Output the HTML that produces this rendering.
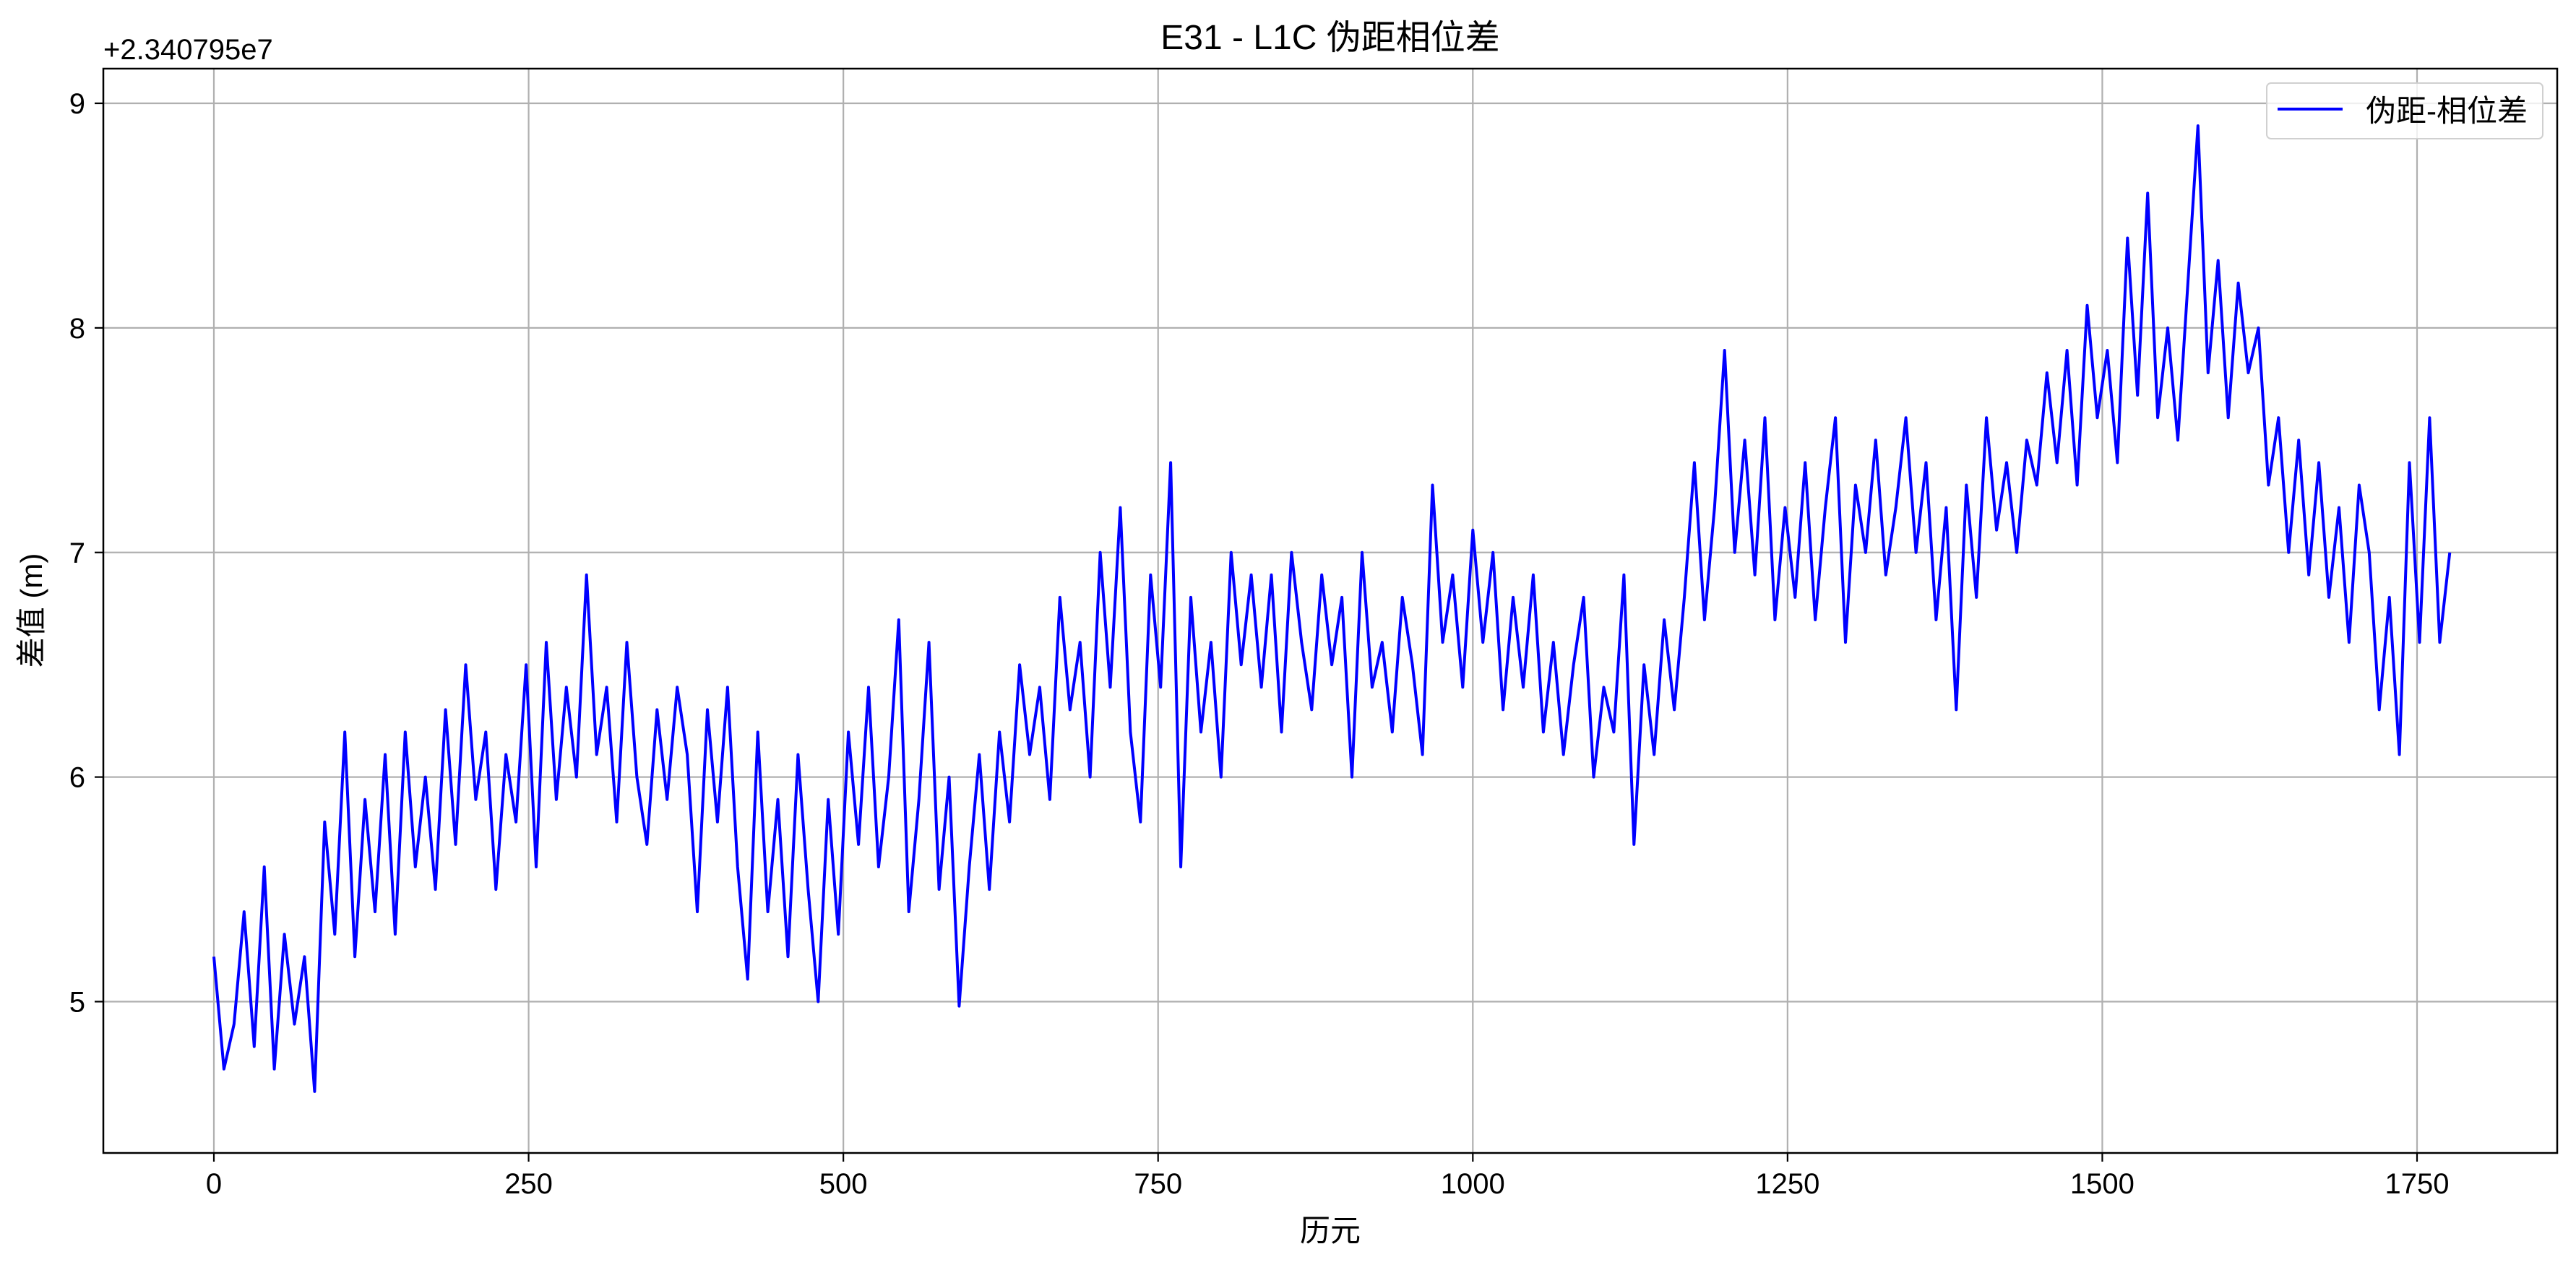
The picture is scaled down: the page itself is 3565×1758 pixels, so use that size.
<!DOCTYPE html>
<html><head><meta charset="utf-8"><style>
html,body{margin:0;padding:0;background:#fff}
svg{display:block}
text{font-family:"Liberation Sans","Noto Sans CJK SC",sans-serif;fill:#000}
</style></head><body>
<svg id="chart" width="3565" height="1758" viewBox="0 0 3565 1758" xmlns="http://www.w3.org/2000/svg">
<rect width="3565" height="1758" fill="#fff"/>
<g id="grid"></g>
<g id="ticks"></g>
<path id="series" fill="none" stroke="#0000ff" stroke-width="4" stroke-linejoin="round"/>
<rect x="143" y="95" width="3396" height="1501" fill="none" stroke="#000" stroke-width="2.5"/>
<text x="1841" y="68" font-size="48" text-anchor="middle">E31 - L1C 伪距相位差</text>
<text x="143" y="82" font-size="40">+2.340795e7</text>
<text x="1841" y="1718" font-size="42" text-anchor="middle">历元</text>
<text transform="translate(58,845) rotate(-90)" font-size="42" text-anchor="middle">差值 (m)</text>
<g>
<rect x="3137" y="115" width="382" height="77" rx="6" fill="#fff" fill-opacity="0.8" stroke="#d0d0d0" stroke-width="2"/>
<line x1="3152" y1="151" x2="3242" y2="151" stroke="#0000ff" stroke-width="4"/>
<text x="3274" y="168" font-size="42">伪距-相位差</text>
</g>
</svg>
<script>
const step = 8;
const values = [
5.2,4.7,4.9,5.4,4.8,5.6,4.7,5.3,4.9,5.2,4.6,5.8,5.3,
6.2,5.2,5.9,5.4,6.1,5.3,6.2,5.6,6.0,5.5,6.3,5.7,6.5,
5.9,6.2,5.5,6.1,5.8,6.5,5.6,6.6,5.9,6.4,6.0,6.9,6.1,
6.4,5.8,6.6,6.0,5.7,6.3,5.9,6.4,6.1,5.4,6.3,5.8,6.4,
5.6,5.1,6.2,5.4,5.9,5.2,6.1,5.5,5.0,5.9,5.3,6.2,5.7,
6.4,5.6,6.0,6.7,5.4,5.9,6.6,5.5,6.0,4.98,5.6,6.1,5.5,
6.2,5.8,6.5,6.1,6.4,5.9,6.8,6.3,6.6,6.0,7.0,6.4,7.2,
6.2,5.8,6.9,6.4,7.4,5.6,6.8,6.2,6.6,6.0,7.0,6.5,6.9,
6.4,6.9,6.2,7.0,6.6,6.3,6.9,6.5,6.8,6.0,7.0,6.4,6.6,
6.2,6.8,6.5,6.1,7.3,6.6,6.9,6.4,7.1,6.6,7.0,6.3,6.8,
6.4,6.9,6.2,6.6,6.1,6.5,6.8,6.0,6.4,6.2,6.9,5.7,6.5,
6.1,6.7,6.3,6.8,7.4,6.7,7.2,7.9,7.0,7.5,6.9,7.6,6.7,
7.2,6.8,7.4,6.7,7.2,7.6,6.6,7.3,7.0,7.5,6.9,7.2,7.6,
7.0,7.4,6.7,7.2,6.3,7.3,6.8,7.6,7.1,7.4,7.0,7.5,7.3,
7.8,7.4,7.9,7.3,8.1,7.6,7.9,7.4,8.4,7.7,8.6,7.6,8.0,
7.5,8.2,8.9,7.8,8.3,7.6,8.2,7.8,8.0,7.3,7.6,7.0,7.5,
6.9,7.4,6.8,7.2,6.6,7.3,7.0,6.3,6.8,6.1,7.4,6.6,7.6,
6.6,7.0];
const xTicks = [0,250,500,750,1000,1250,1500,1750];
const yTicks = [5,6,7,8,9];
const xs = v => 296 + v * (3345 - 296) / 1750;
const ys = v => 1386.5 - (v - 5) * (1386.5 - 143) / 4;
const NS = "http://www.w3.org/2000/svg";
const grid = document.getElementById('grid');
const ticks = document.getElementById('ticks');
function mk(tag, attrs, parent){const e=document.createElementNS(NS,tag);for(const k in attrs)e.setAttribute(k,attrs[k]);parent.appendChild(e);return e;}
xTicks.forEach(t=>{
  const x=xs(t);
  const g=mk('line',{x1:x,x2:x,y1:95,y2:1596,stroke:'#b0b0b0','stroke-width':2.2},grid);
  
  
  const tk=mk('line',{x1:x,x2:x,y1:1596,y2:1608,stroke:'#000','stroke-width':2.2},ticks);
  
  
  const lb=mk('text',{x:x,y:1652,'font-size':40,'text-anchor':'middle'},ticks);
  lb.textContent=t;
  
  
});
yTicks.forEach(t=>{
  const y=ys(t);
  const g=mk('line',{x1:143,x2:3539,y1:y,y2:y,stroke:'#b0b0b0','stroke-width':2.2},grid);
  
  
  const tk=mk('line',{x1:131,x2:143,y1:y,y2:y,stroke:'#000','stroke-width':2.2},ticks);
  
  
  const lb=mk('text',{x:118,y:y+14,'font-size':40,'text-anchor':'end'},ticks);
  lb.textContent=t;
  
  
});
document.getElementById('series').setAttribute('d', values.map((v,i)=>(i?'L':'M')+xs(i*step).toFixed(1)+' '+ys(v).toFixed(1)).join(' '));
</script>
</body></html>
